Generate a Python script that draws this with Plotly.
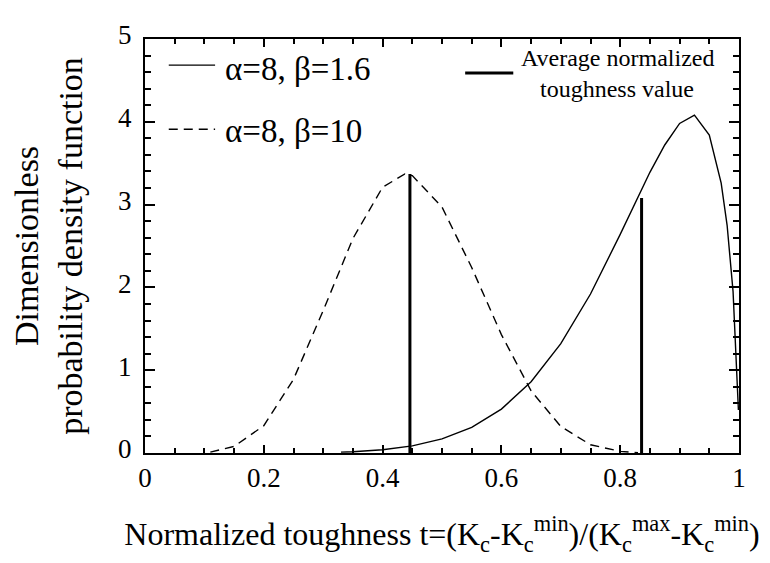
import plotly.graph_objects as go

# values
t_solid = [0.33, 0.35, 0.40, 0.45, 0.50, 0.55, 0.60, 0.65, 0.70, 0.75, 0.80, 0.85,
           0.875, 0.90, 0.925, 0.95, 0.97, 0.98, 0.99, 0.999]
pdf_solid = [0.01, 0.016, 0.04, 0.086, 0.17, 0.31, 0.53, 0.86, 1.32, 1.92, 2.64, 3.39,
             3.72, 3.98, 4.08, 3.84, 3.26, 2.75, 1.95, 0.52]

t_dashed = [0.11, 0.15, 0.20, 0.25, 0.30, 0.35, 0.40, 0.4375, 0.45, 0.50, 0.55, 0.60,
            0.65, 0.70, 0.75, 0.80, 0.83]
pdf_dashed = [0.01, 0.08, 0.33, 0.89, 1.72, 2.59, 3.21, 3.37, 3.35, 2.97, 2.24, 1.43,
              0.75, 0.32, 0.10, 0.02, 0.005]

mean_t = [0.836, 0.446]
mean_pdf = [3.08, 3.37]

FONT = 'Liberation Serif'

fig = go.Figure()
fig.add_trace(go.Scatter(x=t_solid, y=pdf_solid, mode='lines',
                         line=dict(color='black', width=1.4)))
fig.add_trace(go.Scatter(x=t_dashed, y=pdf_dashed, mode='lines',
                         line=dict(color='black', width=1.4, dash='9px,6px')))

vx, vy = [], []
for m, h in zip(mean_t, mean_pdf):
    vx += [m, m, None]
    vy += [0, h, None]
fig.add_trace(go.Scatter(x=vx, y=vy, mode='lines',
                         line=dict(color='black', width=3)))

# hand-drawn legend
fig.add_shape(type='line', xref='paper', yref='paper', x0=0.040, x1=0.118, y0=0.937, y1=0.937,
              line=dict(color='black', width=1.4))
fig.add_shape(type='line', xref='paper', yref='paper', x0=0.040, x1=0.118, y0=0.782, y1=0.782,
              line=dict(color='black', width=1.4, dash='9px,6px'))
fig.add_shape(type='line', xref='paper', yref='paper', x0=0.539, x1=0.620, y0=0.918, y1=0.918,
              line=dict(color='black', width=3))
for txt, y in [('α=8, β=1.6', 0.927), ('α=8, β=10', 0.777)]:
    fig.add_annotation(text=txt, x=0.131, y=y, xref='paper', yref='paper', xanchor='left',
                       yanchor='middle', showarrow=False, font=dict(size=33, family=FONT))
fig.add_annotation(text='Average normalized', x=0.795, y=0.918, xref='paper', yref='paper',
                   xanchor='center', yanchor='bottom', showarrow=False,
                   font=dict(size=24, family=FONT))
fig.add_annotation(text='toughness value', x=0.795, y=0.916, xref='paper', yref='paper',
                   xanchor='center', yanchor='top', showarrow=False,
                   font=dict(size=24, family=FONT))

axis_common = dict(showline=True, linecolor='black', linewidth=2, mirror='allticks',
                   ticks='inside', tickcolor='black', tickwidth=1.5, showgrid=False,
                   zeroline=False, tickfont=dict(size=27, family=FONT, color='black'))

fig.update_xaxes(range=[0, 1], dtick=0.2, ticklen=8,
                 minor=dict(dtick=0.05, ticks='inside', ticklen=5, tickcolor='black', tickwidth=1.5),
                 title=dict(text='Normalized toughness t=(K<sub>c</sub>-K<sub>c</sub><sup>min</sup>)/'
                                 '(K<sub>c</sub><sup>max</sup>-K<sub>c</sub><sup>min</sup>)',
                            font=dict(size=32, family=FONT, color='black'), standoff=30),
                 **axis_common)
fig.update_yaxes(range=[0, 5], dtick=1, ticklen=10, ticklabelstandoff=6, ticklabelshift=-4,
                 minor=dict(dtick=0.2, ticks='inside', ticklen=6, tickcolor='black', tickwidth=1.5),
                 title=dict(text='Dimensionless<br>probability density function',
                            font=dict(size=34, family=FONT, color='black'), standoff=26),
                 **axis_common)

# page body has an 8px margin, so the figure is sized to fit the 770x563 window
fig.update_layout(
    width=762, height=555,
    plot_bgcolor='white', paper_bgcolor='white',
    showlegend=False,
    margin=dict(l=137, r=31, t=19, b=110),
    font=dict(family=FONT, color='black'),
)

fig.write_html('out.html')
